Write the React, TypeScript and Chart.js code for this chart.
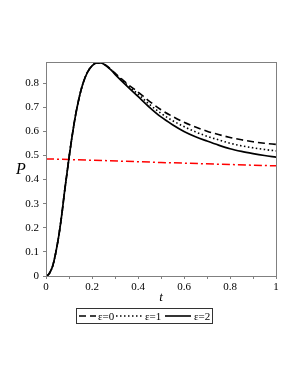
import React, { useEffect, useRef } from "react";
import { Chart, registerables } from "chart.js";

Chart.register(...registerables);

const tValues = [0, 0.01, 0.02, 0.03, 0.04, 0.05, 0.06, 0.07, 0.08, 0.09, 0.1, 0.11, 0.12, 0.13, 0.14, 0.15, 0.16, 0.18, 0.2, 0.22, 0.24, 0.26, 0.28, 0.3, 0.35, 0.4, 0.45, 0.5, 0.55, 0.6, 0.65, 0.7, 0.75, 0.8, 0.85, 0.9, 0.95, 1.0];
const eps0 = [0, 0.005, 0.02, 0.045, 0.085, 0.135, 0.195, 0.265, 0.345, 0.418, 0.49, 0.558, 0.62, 0.675, 0.722, 0.763, 0.797, 0.845, 0.872, 0.884, 0.884, 0.875, 0.86, 0.842, 0.8, 0.763, 0.725, 0.69, 0.662, 0.638, 0.618, 0.601, 0.587, 0.575, 0.565, 0.557, 0.551, 0.546];
const eps1 = [0, 0.005, 0.02, 0.045, 0.085, 0.135, 0.195, 0.265, 0.345, 0.418, 0.49, 0.558, 0.62, 0.675, 0.722, 0.763, 0.797, 0.845, 0.872, 0.884, 0.884, 0.874, 0.859, 0.84, 0.795, 0.755, 0.712, 0.675, 0.645, 0.62, 0.598, 0.58, 0.565, 0.551, 0.54, 0.532, 0.525, 0.519];
const eps2 = [0, 0.005, 0.02, 0.045, 0.085, 0.135, 0.195, 0.265, 0.345, 0.418, 0.49, 0.558, 0.62, 0.675, 0.722, 0.763, 0.797, 0.845, 0.872, 0.884, 0.884, 0.873, 0.857, 0.837, 0.79, 0.745, 0.7, 0.66, 0.628, 0.6, 0.578, 0.56, 0.543, 0.528, 0.517, 0.508, 0.5, 0.493];
const redT = [0, 0.25, 0.5, 0.75, 1];
const redP = [0.486, 0.479, 0.471, 0.464, 0.457];
const xTicks = [0, 0.1, 0.2, 0.3, 0.4, 0.5, 0.6, 0.7, 0.8, 0.9, 1];
const xLabels = ["0", "", "0.2", "", "0.4", "", "0.6", "", "0.8", "", "1"];
const yTicks = [0, 0.1, 0.2, 0.3, 0.4, 0.5, 0.6, 0.7, 0.8];
const legendLabels = ["ε=0", "ε=1", "ε=2"];

const SERIF = "'Liberation Serif', serif";

export default function App() {
  const ref = useRef<HTMLCanvasElement | null>(null);
  useEffect(() => {
    if (!ref.current) return;
    const toXY = (xs: number[], ys: number[]) => xs.map((x, i) => ({ x, y: ys[i] }));
    const dashes = [[7, 4], [1.5, 2.5], []];

    const decor = {
      id: "decor",
      afterDraw(chart: any) {
        const ctx = chart.ctx;
        const a = chart.chartArea;
        ctx.save();
        ctx.strokeStyle = "#808080";
        ctx.lineWidth = 1;
        ctx.strokeRect(a.left + 0.5, a.top + 0.5, a.right - a.left, a.bottom - a.top);
        ctx.fillStyle = "#000";
        ctx.font = `italic 16px ${SERIF}`;
        ctx.textAlign = "center";
        ctx.textBaseline = "middle";
        ctx.fillText("P", 21, 170);
        ctx.font = `italic 13px ${SERIF}`;
        ctx.fillText("t", 161, 298);
        const bx = 76, by = 308, bw = 136, bh = 15;
        ctx.strokeStyle = "#333";
        ctx.strokeRect(bx + 0.5, by + 0.5, bw, bh);
        const cy = by + bh / 2 + 0.5;
        const items = [
          { x0: 79, x1: 96, tx: 98 },
          { x0: 116, x1: 142, tx: 145 },
          { x0: 165, x1: 191, tx: 194 },
        ];
        items.forEach((it, i) => {
          ctx.beginPath();
          ctx.setLineDash(dashes[i]);
          ctx.lineWidth = 1.6;
          ctx.strokeStyle = "#000";
          ctx.moveTo(it.x0, cy);
          ctx.lineTo(it.x1, cy);
          ctx.stroke();
          ctx.setLineDash([]);
          ctx.font = `11px ${SERIF}`;
          ctx.textAlign = "left";
          ctx.fillText(legendLabels[i], it.tx, cy + 1);
        });
        ctx.restore();
      },
    };

    const chart = new Chart(ref.current, {
      type: "line",
      data: {
        datasets: [
          { label: "red", data: toXY(redT, redP), borderColor: "#ff0000", borderWidth: 1.5, borderDash: [8, 3, 2, 3], pointRadius: 0, fill: false, order: 4 },
          { label: legendLabels[0], data: toXY(tValues, eps0), borderColor: "#000", borderWidth: 1.6, borderDash: dashes[0], pointRadius: 0, fill: false, cubicInterpolationMode: "monotone", order: 1 },
          { label: legendLabels[1], data: toXY(tValues, eps1), borderColor: "#000", borderWidth: 1.6, borderDash: dashes[1], pointRadius: 0, fill: false, cubicInterpolationMode: "monotone", order: 2 },
          { label: legendLabels[2], data: toXY(tValues, eps2), borderColor: "#000", borderWidth: 1.7, pointRadius: 0, fill: false, cubicInterpolationMode: "monotone", order: 3 },
        ] as any,
      },
      options: {
        animation: false,
        responsive: false,
        layout: { padding: { left: 0, top: 62, right: 24, bottom: 92 } },
        plugins: { legend: { display: false }, tooltip: { enabled: false } },
        scales: {
          x: {
            type: "linear",
            min: 0,
            max: 1,
            afterBuildTicks: (s: any) => { s.ticks = xTicks.map((v) => ({ value: v })); },
            afterFit: (s: any) => { s.height = 20; },
            ticks: {
              autoSkip: false,
              maxRotation: 0,
              padding: 2,
              color: "#000",
              font: { family: SERIF, size: 11 },
              callback: (_v: any, i: number) => xLabels[i],
            },
            grid: { drawOnChartArea: false, tickLength: 3, color: "#808080" },
            border: { color: "#808080" },
          },
          y: {
            type: "linear",
            min: 0,
            max: 0.888,
            afterBuildTicks: (s: any) => { s.ticks = yTicks.map((v) => ({ value: v })); },
            afterFit: (s: any) => { s.width = 46; },
            ticks: {
              autoSkip: false,
              padding: 4,
              color: "#000",
              font: { family: SERIF, size: 11 },
              callback: (v: any) => String(Math.round(v * 10) / 10),
            },
            grid: { drawOnChartArea: false, tickLength: 3, color: "#808080" },
            border: { color: "#808080" },
          },
        },
      },
      plugins: [decor],
    } as any);
    return () => chart.destroy();
  }, []);
  return (
    <div style={{ position: "absolute", left: 0, top: 0, width: 300, height: 388, background: "#fff" }}>
      <canvas ref={ref} width={300} height={388} style={{ width: 300, height: 388, display: "block" }} />
    </div>
  );
}
